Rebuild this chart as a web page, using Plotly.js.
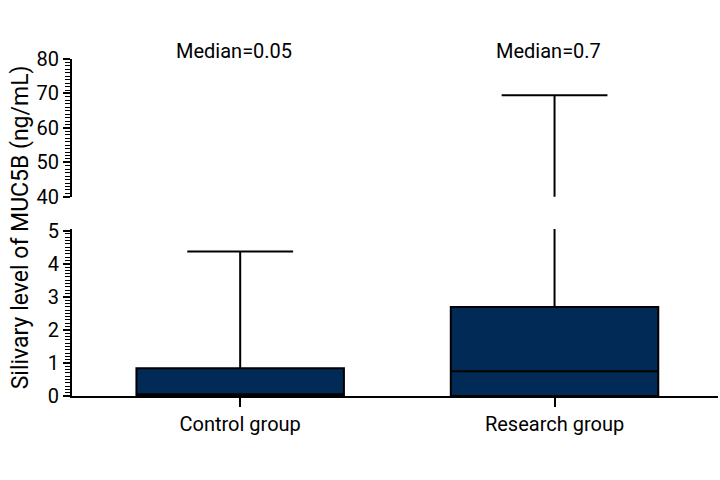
<!DOCTYPE html>
<html>
<head>
<meta charset="utf-8">
<script src="https://cdn.plot.ly/plotly-3.0.1.min.js"></script>
<style>html,body{margin:0;padding:0;background:#fff;}#chart{width:720px;height:480px;}</style>
</head>
<body>
<div id="chart"></div>
<script>
// Data
const categories = ["Control group", "Research group"];
const q1Values = [0, 0];
const medianValues = [0.05, 0.75];
const q3Values = [0.84, 2.69];
const lowerFences = [0, 0];
const upperFences = [4.37, 69.5];
const medianLabels = ["Median=0.05", "Median=0.7"];
const lowerTicks = [0, 1, 2, 3, 4, 5];
const upperTicks = [40, 50, 60, 70, 80];
const yTitle = "Silivary level of MUC5B (ng/mL)";

const FONT = "Roboto, sans-serif";
const fill = "#012a57";

const traces = [];
["y", "y2"].forEach(function (ax) {
  categories.forEach(function (c, i) {
    traces.push({
      type: "box",
      x: [c],
      q1: [q1Values[i]],
      median: [medianValues[i]],
      q3: [q3Values[i]],
      lowerfence: [lowerFences[i]],
      upperfence: [upperFences[i]],
      yaxis: ax,
      xaxis: "x",
      width: 0.66,
      whiskerwidth: 0.51,
      fillcolor: fill,
      line: {color: "#000", width: 2},
      boxpoints: false,
      showlegend: false,
      hoverinfo: "skip"
    });
  });
});

const annotations = categories.map(function (c, i) {
  return {
    x: c, xref: "x", y: 0.893, yref: "paper",
    text: medianLabels[i], showarrow: false,
    xanchor: "center", yanchor: "middle",
    xshift: -6,
    font: {family: FONT, size: 20, color: "#000"}
  };
});
annotations.push({
  x: -0.08, xref: "paper", y: 0.527, yref: "paper",
  text: yTitle, showarrow: false, textangle: -90,
  xanchor: "center", yanchor: "middle",
  font: {family: FONT, size: 23, color: "#000"}
});

const layout = {
  width: 720, height: 480,
  margin: {l: 72, r: 2, t: 0, b: 0},
  paper_bgcolor: "#fff", plot_bgcolor: "#fff",
  font: {family: FONT, size: 20, color: "#000"},
  showlegend: false,
  xaxis: {
    type: "category",
    range: [-0.535, 1.52],
    anchor: "y",
    showline: true, linecolor: "#000", linewidth: 2,
    ticks: "outside", ticklen: 9, tickwidth: 2, tickcolor: "#000",
    showgrid: false, zeroline: false, automargin: false,
    tickfont: {family: FONT, size: 20, color: "#000"}
  },
  yaxis: {
    domain: [0.175, 0.523],
    range: [0, 5.05],
    tickvals: lowerTicks,
    showline: true, linecolor: "#000", linewidth: 2,
    ticks: "outside", ticklen: 7, tickwidth: 2, tickcolor: "#000",
    minor: {dtick: 0.1, ticks: "outside", ticklen: 5, tickwidth: 1, tickcolor: "#000", showgrid: false},
    showgrid: false, zeroline: false, automargin: false,
    tickfont: {family: FONT, size: 20, color: "#000"}
  },
  yaxis2: {
    domain: [0.59, 0.877],
    range: [40, 80],
    tickvals: upperTicks,
    anchor: "x",
    showline: true, linecolor: "#000", linewidth: 2,
    ticks: "outside", ticklen: 7, tickwidth: 2, tickcolor: "#000",
    minor: {dtick: 1, ticks: "outside", ticklen: 5, tickwidth: 1, tickcolor: "#000", showgrid: false},
    showgrid: false, zeroline: false, automargin: false,
    tickfont: {family: FONT, size: 20, color: "#000"}
  },
  annotations: annotations
};

Plotly.newPlot("chart", traces, layout, {displayModeBar: false, staticPlot: true});
</script>
</body>
</html>
